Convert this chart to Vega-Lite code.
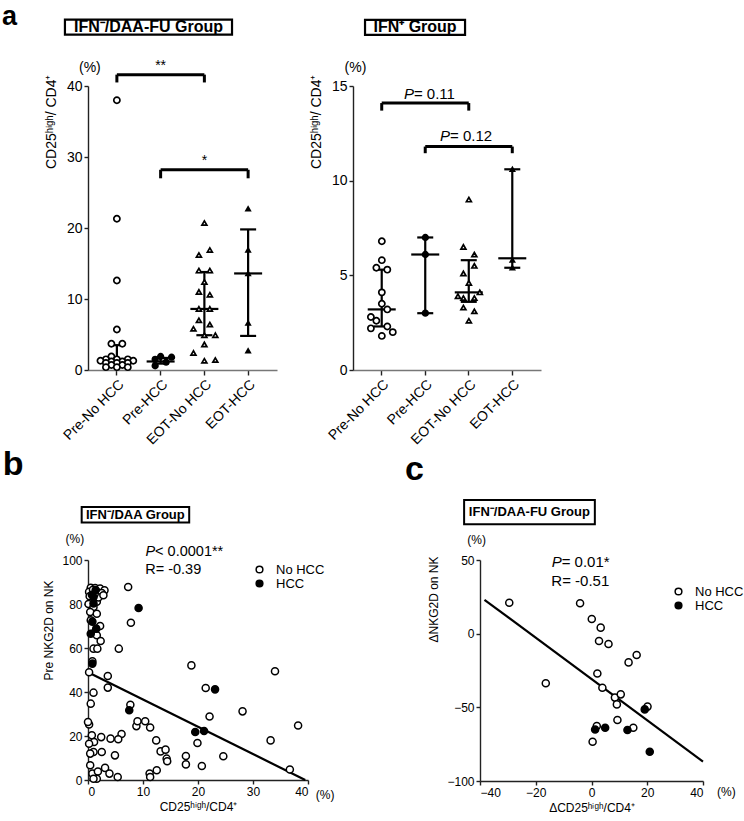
{
  "$schema": "https://vega.github.io/schema/vega-lite/v6.json",
  "padding": {"left": 2, "top": 3, "right": 0, "bottom": 0},
  "background": "white",
  "spacing": 1,
  "resolve": {"scale": {"fill": "independent", "shape": "independent", "size": "independent"}, "legend": {"fill": "independent", "shape": "independent", "size": "independent"}},
  "config": {
    "font": "Liberation Sans",
    "view": {"stroke": null},
    "axis": {"domainColor": "#222", "domainWidth": 1.4, "tickColor": "#222", "tickWidth": 1.4, "tickSize": 4, "labelColor": "black", "labelFontSize": 13, "labelFont": "Liberation Sans", "titleFont": "Liberation Sans", "titleFontWeight": "normal", "titleColor": "black", "titleFontSize": 14, "grid": false},
    "text": {"font": "Liberation Sans", "color": "black"},
    "tick": {"opacity": 1},
    "legend": {"labelFont": "Liberation Sans", "labelColor": "black"}
  },
  "datasets": {
    "aL_pts": [
      {"group": "Pre-No HCC", "value": 38.0, "lane": 0},
      {"group": "Pre-No HCC", "value": 21.3, "lane": 0},
      {"group": "Pre-No HCC", "value": 12.6, "lane": 0},
      {"group": "Pre-No HCC", "value": 5.7, "lane": 0},
      {"group": "Pre-No HCC", "value": 3.7, "lane": -1},
      {"group": "Pre-No HCC", "value": 3.7, "lane": 1},
      {"group": "Pre-No HCC", "value": 1.9, "lane": -1},
      {"group": "Pre-No HCC", "value": 1.5, "lane": -2},
      {"group": "Pre-No HCC", "value": 1.5, "lane": 0},
      {"group": "Pre-No HCC", "value": 1.5, "lane": 2},
      {"group": "Pre-No HCC", "value": 1.3, "lane": -3},
      {"group": "Pre-No HCC", "value": 1.2, "lane": -1},
      {"group": "Pre-No HCC", "value": 1.2, "lane": 1},
      {"group": "Pre-No HCC", "value": 1.3, "lane": 3},
      {"group": "Pre-No HCC", "value": 1.0, "lane": -2},
      {"group": "Pre-No HCC", "value": 1.0, "lane": 0},
      {"group": "Pre-No HCC", "value": 1.0, "lane": 2},
      {"group": "Pre-No HCC", "value": 0.7, "lane": -1},
      {"group": "Pre-No HCC", "value": 0.7, "lane": 1},
      {"group": "Pre-No HCC", "value": 0.4, "lane": -2},
      {"group": "Pre-No HCC", "value": 0.4, "lane": 0},
      {"group": "Pre-No HCC", "value": 0.4, "lane": 2},
      {"group": "Pre-HCC", "value": 1.9, "lane": 0},
      {"group": "Pre-HCC", "value": 1.8, "lane": 2},
      {"group": "Pre-HCC", "value": 1.5, "lane": -1},
      {"group": "Pre-HCC", "value": 1.1, "lane": 1},
      {"group": "Pre-HCC", "value": 0.6, "lane": -1},
      {"group": "EOT-No HCC", "value": 20.7, "lane": 0},
      {"group": "EOT-No HCC", "value": 16.9, "lane": 1},
      {"group": "EOT-No HCC", "value": 16.2, "lane": -1},
      {"group": "EOT-No HCC", "value": 14.0, "lane": -1},
      {"group": "EOT-No HCC", "value": 14.0, "lane": 1},
      {"group": "EOT-No HCC", "value": 12.4, "lane": 0},
      {"group": "EOT-No HCC", "value": 11.0, "lane": -1},
      {"group": "EOT-No HCC", "value": 10.6, "lane": 1},
      {"group": "EOT-No HCC", "value": 8.6, "lane": -1},
      {"group": "EOT-No HCC", "value": 8.6, "lane": 1},
      {"group": "EOT-No HCC", "value": 7.0, "lane": -1},
      {"group": "EOT-No HCC", "value": 6.4, "lane": 1},
      {"group": "EOT-No HCC", "value": 5.8, "lane": -2},
      {"group": "EOT-No HCC", "value": 4.9, "lane": 0},
      {"group": "EOT-No HCC", "value": 4.9, "lane": 2},
      {"group": "EOT-No HCC", "value": 3.6, "lane": 0},
      {"group": "EOT-No HCC", "value": 2.4, "lane": -2},
      {"group": "EOT-No HCC", "value": 1.3, "lane": 0},
      {"group": "EOT-No HCC", "value": 1.4, "lane": 2},
      {"group": "EOT-HCC", "value": 22.7, "lane": 0},
      {"group": "EOT-HCC", "value": 16.9, "lane": 0},
      {"group": "EOT-HCC", "value": 13.6, "lane": 0},
      {"group": "EOT-HCC", "value": 6.6, "lane": 0},
      {"group": "EOT-HCC", "value": 2.7, "lane": 0}
    ],
    "aL_sum": [
      {"group": "Pre-No HCC", "med": 1.3, "lo": 0.5, "hi": 3.5},
      {"group": "Pre-HCC", "med": 1.2, "lo": 0.9, "hi": 1.7},
      {"group": "EOT-No HCC", "med": 8.6, "lo": 4.9, "hi": 13.8},
      {"group": "EOT-HCC", "med": 13.6, "lo": 4.8, "hi": 19.8}
    ],
    "aL_br": [
      {"from": "Pre-No HCC", "to": "EOT-No HCC", "y": 41.6, "y0": 40.5, "mid": "Pre-HCC", "ly": 42.8, "label": "**"},
      {"from": "Pre-HCC", "to": "EOT-HCC", "y": 28.2, "y0": 27.0, "mid": "EOT-No HCC", "ly": 29.5, "label": "*"}
    ],
    "aL_letter": [{"fx": -0.455, "y": 49.7, "text": "a"}],
    "aL_pct": [{"fx": 0.01, "y": 42.6, "text": "(%)"}],
    "aL_box": [
      {"fx": -0.122, "fx2": 0.762, "y": 49.35, "y2": 47.23, "cx": 0.32, "cy": 48.3, "text": "IFN⁻/DAA-FU Group"}
    ],
    "aR_pts": [
      {"group": "Pre-No HCC", "value": 6.8, "lane": 0},
      {"group": "Pre-No HCC", "value": 5.8, "lane": 0},
      {"group": "Pre-No HCC", "value": 5.4, "lane": -1},
      {"group": "Pre-No HCC", "value": 5.3, "lane": 1},
      {"group": "Pre-No HCC", "value": 4.1, "lane": 0},
      {"group": "Pre-No HCC", "value": 3.5, "lane": 0},
      {"group": "Pre-No HCC", "value": 3.2, "lane": 1},
      {"group": "Pre-No HCC", "value": 2.8, "lane": -2},
      {"group": "Pre-No HCC", "value": 2.6, "lane": -1},
      {"group": "Pre-No HCC", "value": 2.3, "lane": 1},
      {"group": "Pre-No HCC", "value": 2.2, "lane": -2},
      {"group": "Pre-No HCC", "value": 2.0, "lane": 2},
      {"group": "Pre-No HCC", "value": 1.8, "lane": 0},
      {"group": "Pre-HCC", "value": 7.0, "lane": 0},
      {"group": "Pre-HCC", "value": 6.1, "lane": 0},
      {"group": "Pre-HCC", "value": 3.0, "lane": 0},
      {"group": "EOT-No HCC", "value": 9.0, "lane": 0},
      {"group": "EOT-No HCC", "value": 6.5, "lane": -1},
      {"group": "EOT-No HCC", "value": 6.1, "lane": 1},
      {"group": "EOT-No HCC", "value": 5.5, "lane": 1},
      {"group": "EOT-No HCC", "value": 5.1, "lane": -1},
      {"group": "EOT-No HCC", "value": 4.6, "lane": 0},
      {"group": "EOT-No HCC", "value": 4.1, "lane": 2},
      {"group": "EOT-No HCC", "value": 3.9, "lane": -2},
      {"group": "EOT-No HCC", "value": 3.8, "lane": -1},
      {"group": "EOT-No HCC", "value": 3.8, "lane": 1},
      {"group": "EOT-No HCC", "value": 3.3, "lane": -1},
      {"group": "EOT-No HCC", "value": 3.1, "lane": 1},
      {"group": "EOT-No HCC", "value": 2.6, "lane": 0},
      {"group": "EOT-HCC", "value": 10.6, "lane": 0},
      {"group": "EOT-HCC", "value": 5.8, "lane": 0},
      {"group": "EOT-HCC", "value": 5.4, "lane": 0}
    ],
    "aR_sum": [
      {"group": "Pre-No HCC", "med": 3.2, "lo": 2.3, "hi": 5.3},
      {"group": "Pre-HCC", "med": 6.1, "lo": 3.0, "hi": 7.0},
      {"group": "EOT-No HCC", "med": 4.1, "lo": 3.6, "hi": 5.8},
      {"group": "EOT-HCC", "med": 5.9, "lo": 5.4, "hi": 10.6}
    ],
    "aR_br": [
      {"from": "Pre-No HCC", "to": "EOT-No HCC", "y": 14.1, "y0": 13.7},
      {"from": "Pre-HCC", "to": "EOT-HCC", "y": 11.8, "y0": 11.45}
    ],
    "aR_pct": [{"fx": 0.013, "y": 15.93, "text": "(%)"}],
    "aR_p": [
      {"fx": 0.324, "y": 14.56, "rest": "= 0.11"},
      {"fx": 0.516, "y": 12.36, "rest": "= 0.12"}
    ],
    "aR_box": [
      {"fx": 0.064, "fx2": 0.596, "y": 18.49, "y2": 17.7, "cx": 0.33, "cy": 18.1, "text": "IFN⁺ Group"}
    ],
    "b_pts": [
      {"x": 0.5, "y": 87.4, "grp": "No HCC"}, {"x": 1.3, "y": 87.3, "grp": "No HCC"}, {"x": 2.2, "y": 87.0, "grp": "No HCC"},
      {"x": 3.0, "y": 86.2, "grp": "No HCC"}, {"x": 0.2, "y": 85.5, "grp": "No HCC"}, {"x": 1.6, "y": 85.5, "grp": "No HCC"},
      {"x": 2.5, "y": 85.0, "grp": "No HCC"}, {"x": 0.7, "y": 82.4, "grp": "No HCC"}, {"x": 1.6, "y": 81.0, "grp": "No HCC"},
      {"x": 0.1, "y": 80.0, "grp": "No HCC"}, {"x": 1.0, "y": 78.6, "grp": "No HCC"}, {"x": 0.4, "y": 76.4, "grp": "No HCC"},
      {"x": 1.6, "y": 75.6, "grp": "No HCC"}, {"x": 0.5, "y": 72.6, "grp": "No HCC"}, {"x": 2.2, "y": 70.0, "grp": "No HCC"},
      {"x": 1.2, "y": 67.0, "grp": "No HCC"}, {"x": 1.6, "y": 65.8, "grp": "No HCC"}, {"x": 2.3, "y": 63.2, "grp": "No HCC"},
      {"x": 1.0, "y": 59.7, "grp": "No HCC"}, {"x": 1.7, "y": 59.7, "grp": "No HCC"}, {"x": 0.8, "y": 54.0, "grp": "No HCC"},
      {"x": 0.2, "y": 49.0, "grp": "No HCC"}, {"x": 1.0, "y": 39.7, "grp": "No HCC"}, {"x": 0.5, "y": 34.7, "grp": "No HCC"},
      {"x": 3.6, "y": 47.3, "grp": "No HCC"}, {"x": 3.6, "y": 42.0, "grp": "No HCC"}, {"x": 7.3, "y": 87.7, "grp": "No HCC"},
      {"x": 7.8, "y": 71.5, "grp": "No HCC"}, {"x": 5.6, "y": 59.7, "grp": "No HCC"}, {"x": 18.8, "y": 52.1, "grp": "No HCC"},
      {"x": 34.0, "y": 49.4, "grp": "No HCC"}, {"x": 21.4, "y": 41.8, "grp": "No HCC"}, {"x": 22.1, "y": 28.9, "grp": "No HCC"},
      {"x": 28.1, "y": 31.2, "grp": "No HCC"}, {"x": 7.7, "y": 34.2, "grp": "No HCC"}, {"x": 8.8, "y": 24.5, "grp": "No HCC"},
      {"x": 9.0, "y": 26.7, "grp": "No HCC"}, {"x": 10.4, "y": 26.7, "grp": "No HCC"}, {"x": 11.3, "y": 23.9, "grp": "No HCC"},
      {"x": 38.2, "y": 24.8, "grp": "No HCC"}, {"x": 6.1, "y": 20.9, "grp": "No HCC"}, {"x": 4.1, "y": 18.8, "grp": "No HCC"},
      {"x": 5.5, "y": 18.5, "grp": "No HCC"}, {"x": 2.4, "y": 19.5, "grp": "No HCC"}, {"x": 0.7, "y": 20.3, "grp": "No HCC"},
      {"x": 0.2, "y": 25.2, "grp": "No HCC"}, {"x": 0.0, "y": 26.4, "grp": "No HCC"}, {"x": 12.4, "y": 18.0, "grp": "No HCC"},
      {"x": 13.2, "y": 13.0, "grp": "No HCC"}, {"x": 14.1, "y": 13.8, "grp": "No HCC"}, {"x": 14.3, "y": 9.7, "grp": "No HCC"},
      {"x": 14.4, "y": 8.5, "grp": "No HCC"}, {"x": 17.8, "y": 10.9, "grp": "No HCC"}, {"x": 17.8, "y": 7.1, "grp": "No HCC"},
      {"x": 19.9, "y": 16.8, "grp": "No HCC"}, {"x": 20.7, "y": 6.4, "grp": "No HCC"}, {"x": 24.6, "y": 10.8, "grp": "No HCC"},
      {"x": 33.2, "y": 18.0, "grp": "No HCC"}, {"x": 36.7, "y": 4.8, "grp": "No HCC"}, {"x": 4.9, "y": 11.2, "grp": "No HCC"},
      {"x": 1.1, "y": 17.3, "grp": "No HCC"}, {"x": 2.5, "y": 12.7, "grp": "No HCC"}, {"x": 1.0, "y": 12.7, "grp": "No HCC"},
      {"x": 0.2, "y": 16.5, "grp": "No HCC"}, {"x": 0.4, "y": 12.0, "grp": "No HCC"}, {"x": 0.4, "y": 6.7, "grp": "No HCC"},
      {"x": 0.8, "y": 2.9, "grp": "No HCC"}, {"x": 1.8, "y": 3.9, "grp": "No HCC"}, {"x": 1.6, "y": 0.6, "grp": "No HCC"},
      {"x": 1.0, "y": 0.6, "grp": "No HCC"}, {"x": 3.1, "y": 5.5, "grp": "No HCC"}, {"x": 3.9, "y": 2.9, "grp": "No HCC"},
      {"x": 5.4, "y": 1.4, "grp": "No HCC"}, {"x": 11.2, "y": 2.9, "grp": "No HCC"}, {"x": 11.3, "y": 1.4, "grp": "No HCC"},
      {"x": 12.5, "y": 4.4, "grp": "No HCC"}, {"x": 0.3, "y": 83.5, "grp": "No HCC"}, {"x": 1.9, "y": 83.0, "grp": "No HCC"},
      {"x": 2.8, "y": 84.0, "grp": "No HCC"}, {"x": 1.2, "y": 84.5, "grp": "No HCC"}, {"x": 0.9, "y": 86.5, "grp": "No HCC"},
      {"x": 0.7, "y": 84.2, "grp": "HCC"}, {"x": 1.0, "y": 83.2, "grp": "HCC"}, {"x": 1.4, "y": 86.4, "grp": "HCC"},
      {"x": 1.0, "y": 80.2, "grp": "HCC"}, {"x": 0.8, "y": 72.0, "grp": "HCC"}, {"x": 0.5, "y": 66.5, "grp": "HCC"},
      {"x": 1.5, "y": 68.8, "grp": "HCC"}, {"x": 0.8, "y": 52.9, "grp": "HCC"}, {"x": 9.2, "y": 78.2, "grp": "HCC"},
      {"x": 7.5, "y": 31.7, "grp": "HCC"}, {"x": 23.1, "y": 41.2, "grp": "HCC"}, {"x": 19.5, "y": 21.8, "grp": "HCC"},
      {"x": 21.1, "y": 22.3, "grp": "HCC"}
    ],
    "b_fit": [{"x": 0, "y": 49.0}, {"x": 39.5, "y": 0}],
    "b_letter": [{"x": -15.5, "y": 143, "text": "b"}],
    "b_pct": [{"x": -2.4, "y": 109.5, "text": "(%)"}, {"x": 43.1, "y": -6.8, "text": "(%)"}],
    "b_r": [{"x": 10.4, "y": 95.6, "text": "R= -0.39"}],
    "b_p": [{"x": 12.2, "y": 103.5, "rest": "< 0.0001**"}],
    "b_box": [{"x": -1.15, "x2": 18.4, "y": 124.1, "y2": 117.0, "cx": 8.6, "cy": 120.5, "text": "IFN⁻/DAA Group"}],
    "c_pts": [
      {"x": -29.5, "y": 21.0, "grp": "No HCC"}, {"x": -4.1, "y": 20.6, "grp": "No HCC"}, {"x": 0.1, "y": 10.0, "grp": "No HCC"},
      {"x": 3.3, "y": 4.1, "grp": "No HCC"}, {"x": 2.7, "y": -5.0, "grp": "No HCC"}, {"x": 6.1, "y": -7.0, "grp": "No HCC"},
      {"x": 13.3, "y": -19.5, "grp": "No HCC"}, {"x": 16.2, "y": -14.5, "grp": "No HCC"}, {"x": -16.4, "y": -33.7, "grp": "No HCC"},
      {"x": 2.1, "y": -27.0, "grp": "No HCC"}, {"x": 3.9, "y": -36.7, "grp": "No HCC"}, {"x": 8.4, "y": -43.4, "grp": "No HCC"},
      {"x": 10.5, "y": -41.2, "grp": "No HCC"}, {"x": 9.1, "y": -48.0, "grp": "No HCC"}, {"x": 9.3, "y": -58.6, "grp": "No HCC"},
      {"x": 20.1, "y": -49.5, "grp": "No HCC"}, {"x": 1.9, "y": -62.7, "grp": "No HCC"}, {"x": 15.0, "y": -63.8, "grp": "No HCC"},
      {"x": 0.4, "y": -73.3, "grp": "No HCC"},
      {"x": 1.3, "y": -65.0, "grp": "HCC"}, {"x": 4.9, "y": -63.8, "grp": "HCC"}, {"x": 12.9, "y": -65.4, "grp": "HCC"},
      {"x": 19.1, "y": -51.4, "grp": "HCC"}, {"x": 20.9, "y": -80.1, "grp": "HCC"}
    ],
    "c_fit": [{"x": -38.4, "y": 23.0}, {"x": 40, "y": -86.9}],
    "c_letter": [{"x": -66.9, "y": 110.9, "text": "c"}],
    "c_pct": [{"x": -41.2, "y": 63.6, "text": "(%)"}, {"x": 48.4, "y": -107.2, "text": "(%)"}],
    "c_r": [{"x": -14.4, "y": 36.0, "text": "R= -0.51"}],
    "c_p": [{"x": -10.7, "y": 48.8, "rest": "= 0.01*"}],
    "c_box": [{"x": -45.7, "x2": 1.2, "y": 90.7, "y2": 74.2, "cx": -22.3, "cy": 82.5, "text": "IFN⁻/DAA-FU Group"}]
  },
  "vconcat": [
    {
      "bounds": "flush",
      "spacing": 76,
      "resolve": {"scale": {"fill": "independent", "shape": "independent", "size": "independent"}, "legend": {"fill": "independent", "shape": "independent", "size": "independent"}},
      "hconcat": [
        {
          "width": 189,
          "height": 284,
          "layer": [
            {
              "layer": [
                {
                  "data": {"name": "aL_sum"},
                  "mark": {"type": "rule", "color": "black", "strokeWidth": 2.2},
                  "encoding": {
                    "x": {"field": "group", "type": "nominal", "scale": {"type": "band", "domain": ["Pre-No HCC", "Pre-HCC", "EOT-No HCC", "EOT-HCC"], "paddingInner": 0, "paddingOuter": 0.16}, "axis": {"title": null, "labelAngle": -45, "labelFontSize": 14, "tickSize": 5, "bandPosition": 0.5, "domainColor": "#777", "labelPadding": 2}},
                    "y": {"field": "lo", "type": "quantitative", "scale": {"domain": [0, 40], "nice": false}, "axis": {"values": [0, 10, 20, 30, 40], "title": "CD25ʰⁱᵍʰ/ CD4⁺", "titleAnchor": "end", "titleY": -12, "labelFontSize": 14, "titlePadding": 8}},
                    "y2": {"field": "hi"}
                  }
                },
                {
                  "data": {"name": "aL_sum"},
                  "mark": {"type": "tick", "color": "black", "opacity": 1, "thickness": 2.2, "size": 28},
                  "encoding": {
                    "x": {"field": "group", "type": "nominal", "scale": {"type": "band", "domain": ["Pre-No HCC", "Pre-HCC", "EOT-No HCC", "EOT-HCC"], "paddingInner": 0, "paddingOuter": 0.16}},
                    "y": {"field": "med", "type": "quantitative"}
                  }
                },
                {
                  "data": {"name": "aL_sum"},
                  "mark": {"type": "tick", "color": "black", "opacity": 1, "thickness": 2.2, "size": 16},
                  "encoding": {
                    "x": {"field": "group", "type": "nominal", "scale": {"type": "band", "domain": ["Pre-No HCC", "Pre-HCC", "EOT-No HCC", "EOT-HCC"], "paddingInner": 0, "paddingOuter": 0.16}},
                    "y": {"field": "lo", "type": "quantitative"}
                  }
                },
                {
                  "data": {"name": "aL_sum"},
                  "mark": {"type": "tick", "color": "black", "opacity": 1, "thickness": 2.2, "size": 16},
                  "encoding": {
                    "x": {"field": "group", "type": "nominal", "scale": {"type": "band", "domain": ["Pre-No HCC", "Pre-HCC", "EOT-No HCC", "EOT-HCC"], "paddingInner": 0, "paddingOuter": 0.16}},
                    "y": {"field": "hi", "type": "quantitative"}
                  }
                },
                {
                  "data": {"name": "aL_pts"},
                  "mark": {"type": "point", "filled": true, "stroke": "black", "strokeWidth": 1.7, "opacity": 1},
                  "encoding": {
                    "x": {"field": "group", "type": "nominal", "scale": {"type": "band", "domain": ["Pre-No HCC", "Pre-HCC", "EOT-No HCC", "EOT-HCC"], "paddingInner": 0, "paddingOuter": 0.16}},
                    "xOffset": {"field": "lane", "type": "ordinal", "scale": {"domain": [-4, -3, -2, -1, 0, 1, 2, 3, 4], "paddingInner": 0, "paddingOuter": 0}},
                    "y": {"field": "value", "type": "quantitative"},
                    "shape": {"field": "group", "type": "nominal", "scale": {"domain": ["Pre-No HCC", "Pre-HCC", "EOT-No HCC", "EOT-HCC"], "range": ["circle", "circle", "triangle-up", "triangle-up"]}, "legend": null},
                    "fill": {"field": "group", "type": "nominal", "scale": {"domain": ["Pre-No HCC", "Pre-HCC", "EOT-No HCC", "EOT-HCC"], "range": ["white", "black", "white", "black"]}, "legend": null},
                    "size": {"field": "group", "type": "nominal", "scale": {"domain": ["Pre-No HCC", "Pre-HCC", "EOT-No HCC", "EOT-HCC"], "range": [38, 18, 40, 18]}, "legend": null}
                  }
                },
                {
                  "data": {"name": "aL_br"},
                  "mark": {"type": "rule", "color": "black", "strokeWidth": 3},
                  "encoding": {
                    "x": {"field": "from", "type": "nominal", "scale": {"type": "band", "domain": ["Pre-No HCC", "Pre-HCC", "EOT-No HCC", "EOT-HCC"], "paddingInner": 0, "paddingOuter": 0.16}},
                    "x2": {"field": "to"},
                    "y": {"field": "y", "type": "quantitative"}
                  }
                },
                {
                  "data": {"name": "aL_br"},
                  "mark": {"type": "rule", "color": "black", "strokeWidth": 3},
                  "encoding": {
                    "x": {"field": "from", "type": "nominal", "scale": {"type": "band", "domain": ["Pre-No HCC", "Pre-HCC", "EOT-No HCC", "EOT-HCC"], "paddingInner": 0, "paddingOuter": 0.16}},
                    "y": {"field": "y", "type": "quantitative"},
                    "y2": {"field": "y0"}
                  }
                },
                {
                  "data": {"name": "aL_br"},
                  "mark": {"type": "rule", "color": "black", "strokeWidth": 3},
                  "encoding": {
                    "x": {"field": "to", "type": "nominal", "scale": {"type": "band", "domain": ["Pre-No HCC", "Pre-HCC", "EOT-No HCC", "EOT-HCC"], "paddingInner": 0, "paddingOuter": 0.16}},
                    "y": {"field": "y", "type": "quantitative"},
                    "y2": {"field": "y0"}
                  }
                },
                {
                  "data": {"name": "aL_br"},
                  "mark": {"type": "text", "fontSize": 14, "baseline": "middle", "color": "black"},
                  "encoding": {
                    "x": {"field": "mid", "type": "nominal", "scale": {"type": "band", "domain": ["Pre-No HCC", "Pre-HCC", "EOT-No HCC", "EOT-HCC"], "paddingInner": 0, "paddingOuter": 0.16}},
                    "y": {"field": "ly", "type": "quantitative"},
                    "text": {"field": "label"}
                  }
                }
              ]
            },
            {
              "layer": [
                {
                  "data": {"name": "aL_box"},
                  "mark": {"type": "rect", "fill": "white", "stroke": "black", "strokeWidth": 2.2},
                  "encoding": {
                    "x": {"field": "fx", "type": "quantitative", "scale": {"domain": [0, 1], "nice": false, "zero": false}, "axis": null},
                    "x2": {"field": "fx2"},
                    "y": {"field": "y", "type": "quantitative"},
                    "y2": {"field": "y2"}
                  }
                },
                {
                  "data": {"name": "aL_box"},
                  "mark": {"type": "text", "fontSize": 16, "fontWeight": "bold", "baseline": "middle", "color": "black"},
                  "encoding": {
                    "x": {"field": "cx", "type": "quantitative", "axis": null},
                    "y": {"field": "cy", "type": "quantitative"},
                    "text": {"field": "text"}
                  }
                },
                {
                  "data": {"name": "aL_letter"},
                  "mark": {"type": "text", "fontSize": 27, "fontWeight": "bold", "baseline": "middle", "align": "left", "color": "black"},
                  "encoding": {
                    "x": {"field": "fx", "type": "quantitative", "axis": null},
                    "y": {"field": "y", "type": "quantitative"},
                    "text": {"field": "text"}
                  }
                },
                {
                  "data": {"name": "aL_pct"},
                  "mark": {"type": "text", "fontSize": 14, "baseline": "middle", "color": "black"},
                  "encoding": {
                    "x": {"field": "fx", "type": "quantitative", "axis": null},
                    "y": {"field": "y", "type": "quantitative"},
                    "text": {"field": "text"}
                  }
                }
              ]
            }
          ],
          "resolve": {"scale": {"x": "independent"}}
        },
        {
          "width": 188,
          "height": 284,
          "layer": [
            {
              "layer": [
                {
                  "data": {"name": "aR_sum"},
                  "mark": {"type": "rule", "color": "black", "strokeWidth": 2.2},
                  "encoding": {
                    "x": {"field": "group", "type": "nominal", "scale": {"type": "band", "domain": ["Pre-No HCC", "Pre-HCC", "EOT-No HCC", "EOT-HCC"], "paddingInner": 0, "paddingOuter": 0.16}, "axis": {"title": null, "labelAngle": -45, "labelFontSize": 14, "tickSize": 5, "bandPosition": 0.5, "domainColor": "#777", "labelPadding": 2}},
                    "y": {"field": "lo", "type": "quantitative", "scale": {"domain": [0, 15], "nice": false}, "axis": {"values": [0, 5, 10, 15], "title": "CD25ʰⁱᵍʰ/ CD4⁺", "titleAnchor": "end", "titleY": -12, "labelFontSize": 14, "titlePadding": 8}},
                    "y2": {"field": "hi"}
                  }
                },
                {
                  "data": {"name": "aR_sum"},
                  "mark": {"type": "tick", "color": "black", "opacity": 1, "thickness": 2.2, "size": 28},
                  "encoding": {
                    "x": {"field": "group", "type": "nominal", "scale": {"type": "band", "domain": ["Pre-No HCC", "Pre-HCC", "EOT-No HCC", "EOT-HCC"], "paddingInner": 0, "paddingOuter": 0.16}},
                    "y": {"field": "med", "type": "quantitative"}
                  }
                },
                {
                  "data": {"name": "aR_sum"},
                  "mark": {"type": "tick", "color": "black", "opacity": 1, "thickness": 2.2, "size": 16},
                  "encoding": {
                    "x": {"field": "group", "type": "nominal", "scale": {"type": "band", "domain": ["Pre-No HCC", "Pre-HCC", "EOT-No HCC", "EOT-HCC"], "paddingInner": 0, "paddingOuter": 0.16}},
                    "y": {"field": "lo", "type": "quantitative"}
                  }
                },
                {
                  "data": {"name": "aR_sum"},
                  "mark": {"type": "tick", "color": "black", "opacity": 1, "thickness": 2.2, "size": 16},
                  "encoding": {
                    "x": {"field": "group", "type": "nominal", "scale": {"type": "band", "domain": ["Pre-No HCC", "Pre-HCC", "EOT-No HCC", "EOT-HCC"], "paddingInner": 0, "paddingOuter": 0.16}},
                    "y": {"field": "hi", "type": "quantitative"}
                  }
                },
                {
                  "data": {"name": "aR_pts"},
                  "mark": {"type": "point", "filled": true, "stroke": "black", "strokeWidth": 1.7, "opacity": 1},
                  "encoding": {
                    "x": {"field": "group", "type": "nominal", "scale": {"type": "band", "domain": ["Pre-No HCC", "Pre-HCC", "EOT-No HCC", "EOT-HCC"], "paddingInner": 0, "paddingOuter": 0.16}},
                    "xOffset": {"field": "lane", "type": "ordinal", "scale": {"domain": [-4, -3, -2, -1, 0, 1, 2, 3, 4], "paddingInner": 0, "paddingOuter": 0}},
                    "y": {"field": "value", "type": "quantitative"},
                    "shape": {"field": "group", "type": "nominal", "scale": {"domain": ["Pre-No HCC", "Pre-HCC", "EOT-No HCC", "EOT-HCC"], "range": ["circle", "circle", "triangle-up", "triangle-up"]}, "legend": null},
                    "fill": {"field": "group", "type": "nominal", "scale": {"domain": ["Pre-No HCC", "Pre-HCC", "EOT-No HCC", "EOT-HCC"], "range": ["white", "black", "white", "black"]}, "legend": null},
                    "size": {"field": "group", "type": "nominal", "scale": {"domain": ["Pre-No HCC", "Pre-HCC", "EOT-No HCC", "EOT-HCC"], "range": [38, 18, 40, 18]}, "legend": null}
                  }
                },
                {
                  "data": {"name": "aR_br"},
                  "mark": {"type": "rule", "color": "black", "strokeWidth": 3},
                  "encoding": {
                    "x": {"field": "from", "type": "nominal", "scale": {"type": "band", "domain": ["Pre-No HCC", "Pre-HCC", "EOT-No HCC", "EOT-HCC"], "paddingInner": 0, "paddingOuter": 0.16}},
                    "x2": {"field": "to"},
                    "y": {"field": "y", "type": "quantitative"}
                  }
                },
                {
                  "data": {"name": "aR_br"},
                  "mark": {"type": "rule", "color": "black", "strokeWidth": 3},
                  "encoding": {
                    "x": {"field": "from", "type": "nominal", "scale": {"type": "band", "domain": ["Pre-No HCC", "Pre-HCC", "EOT-No HCC", "EOT-HCC"], "paddingInner": 0, "paddingOuter": 0.16}},
                    "y": {"field": "y", "type": "quantitative"},
                    "y2": {"field": "y0"}
                  }
                },
                {
                  "data": {"name": "aR_br"},
                  "mark": {"type": "rule", "color": "black", "strokeWidth": 3},
                  "encoding": {
                    "x": {"field": "to", "type": "nominal", "scale": {"type": "band", "domain": ["Pre-No HCC", "Pre-HCC", "EOT-No HCC", "EOT-HCC"], "paddingInner": 0, "paddingOuter": 0.16}},
                    "y": {"field": "y", "type": "quantitative"},
                    "y2": {"field": "y0"}
                  }
                }
              ]
            },
            {
              "layer": [
                {
                  "data": {"name": "aR_box"},
                  "mark": {"type": "rect", "fill": "white", "stroke": "black", "strokeWidth": 2.2},
                  "encoding": {
                    "x": {"field": "fx", "type": "quantitative", "scale": {"domain": [0, 1], "nice": false, "zero": false}, "axis": null},
                    "x2": {"field": "fx2"},
                    "y": {"field": "y", "type": "quantitative"},
                    "y2": {"field": "y2"}
                  }
                },
                {
                  "data": {"name": "aR_box"},
                  "mark": {"type": "text", "fontSize": 16, "fontWeight": "bold", "baseline": "middle", "color": "black"},
                  "encoding": {
                    "x": {"field": "cx", "type": "quantitative", "axis": null},
                    "y": {"field": "cy", "type": "quantitative"},
                    "text": {"field": "text"}
                  }
                },
                {
                  "data": {"name": "aR_pct"},
                  "mark": {"type": "text", "fontSize": 14, "baseline": "middle", "color": "black"},
                  "encoding": {
                    "x": {"field": "fx", "type": "quantitative", "axis": null},
                    "y": {"field": "y", "type": "quantitative"},
                    "text": {"field": "text"}
                  }
                },
                {
                  "data": {"name": "aR_p"},
                  "mark": {"type": "text", "fontSize": 15, "fontStyle": "italic", "baseline": "middle", "align": "right", "text": "P", "color": "black"},
                  "encoding": {
                    "x": {"field": "fx", "type": "quantitative", "axis": null},
                    "y": {"field": "y", "type": "quantitative"}
                  }
                },
                {
                  "data": {"name": "aR_p"},
                  "mark": {"type": "text", "fontSize": 15, "baseline": "middle", "align": "left", "color": "black"},
                  "encoding": {
                    "x": {"field": "fx", "type": "quantitative", "axis": null},
                    "y": {"field": "y", "type": "quantitative"},
                    "text": {"field": "rest"}
                  }
                }
              ]
            }
          ],
          "resolve": {"scale": {"x": "independent"}}
        }
      ]
    },
    {
      "bounds": "flush",
      "spacing": 172,
      "resolve": {"scale": {"fill": "independent", "shape": "independent", "size": "independent"}, "legend": {"fill": "independent", "shape": "independent", "size": "independent"}},
      "hconcat": [
        {
          "width": 220,
          "height": 220,
          "layer": [
            {
              "data": {"name": "b_fit"},
              "mark": {"type": "line", "color": "black", "strokeWidth": 2.2},
              "encoding": {
                "x": {"field": "x", "type": "quantitative", "scale": {"domain": [0, 40], "nice": false, "zero": false}, "axis": {"values": [0, 10, 20, 30, 40], "title": "CD25ʰⁱᵍʰ/CD4⁺", "titleFontSize": 12, "labelFontSize": 12, "titlePadding": 4}},
                "y": {"field": "y", "type": "quantitative", "scale": {"domain": [0, 100], "nice": false, "zero": false}, "axis": {"values": [0, 20, 40, 60, 80, 100], "title": "Pre NKG2D on NK", "titleFontSize": 12, "labelFontSize": 12, "titlePadding": 6, "titleAnchor": "end", "titleY": 20}}
              }
            },
            {
              "data": {"name": "b_pts"},
              "mark": {"type": "point", "filled": true, "shape": "circle", "stroke": "black", "strokeWidth": 1.5, "size": 50, "opacity": 1},
              "encoding": {
                "x": {"field": "x", "type": "quantitative"},
                "y": {"field": "y", "type": "quantitative"},
                "fill": {"field": "grp", "type": "nominal", "scale": {"domain": ["No HCC", "HCC"], "range": ["white", "black"]}, "legend": {"title": null, "orient": "none", "legendX": 165, "legendY": 3, "labelFontSize": 13, "symbolSize": 45, "symbolStrokeColor": "black", "symbolStrokeWidth": 1.5, "symbolType": "circle", "rowPadding": 0, "labelOffset": 10}}
              }
            },
            {
              "data": {"name": "b_box"},
              "mark": {"type": "rect", "fill": "white", "stroke": "black", "strokeWidth": 2},
              "encoding": {
                "x": {"field": "x", "type": "quantitative"},
                "x2": {"field": "x2"},
                "y": {"field": "y", "type": "quantitative"},
                "y2": {"field": "y2"}
              }
            },
            {
              "data": {"name": "b_box"},
              "mark": {"type": "text", "fontSize": 13, "fontWeight": "bold", "baseline": "middle", "color": "black"},
              "encoding": {
                "x": {"field": "cx", "type": "quantitative"},
                "y": {"field": "cy", "type": "quantitative"},
                "text": {"field": "text"}
              }
            },
            {
              "data": {"name": "b_letter"},
              "mark": {"type": "text", "fontSize": 34, "fontWeight": "bold", "baseline": "middle", "align": "left", "color": "black"},
              "encoding": {
                "x": {"field": "x", "type": "quantitative"},
                "y": {"field": "y", "type": "quantitative"},
                "text": {"field": "text"}
              }
            },
            {
              "data": {"name": "b_pct"},
              "mark": {"type": "text", "fontSize": 12, "baseline": "middle", "color": "black"},
              "encoding": {
                "x": {"field": "x", "type": "quantitative"},
                "y": {"field": "y", "type": "quantitative"},
                "text": {"field": "text"}
              }
            },
            {
              "data": {"name": "b_r"},
              "mark": {"type": "text", "fontSize": 14.5, "baseline": "middle", "align": "left", "color": "black"},
              "encoding": {
                "x": {"field": "x", "type": "quantitative"},
                "y": {"field": "y", "type": "quantitative"},
                "text": {"field": "text"}
              }
            },
            {
              "data": {"name": "b_p"},
              "mark": {"type": "text", "fontSize": 14.5, "fontStyle": "italic", "baseline": "middle", "align": "right", "text": "P", "color": "black"},
              "encoding": {
                "x": {"field": "x", "type": "quantitative"},
                "y": {"field": "y", "type": "quantitative"}
              }
            },
            {
              "data": {"name": "b_p"},
              "mark": {"type": "text", "fontSize": 14.5, "baseline": "middle", "align": "left", "color": "black"},
              "encoding": {
                "x": {"field": "x", "type": "quantitative"},
                "y": {"field": "y", "type": "quantitative"},
                "text": {"field": "rest"}
              }
            }
          ]
        },
        {
          "width": 223,
          "height": 221,
          "layer": [
            {
              "data": {"name": "c_fit"},
              "mark": {"type": "line", "color": "black", "strokeWidth": 2.2},
              "encoding": {
                "x": {"field": "x", "type": "quantitative", "scale": {"domain": [-40, 40], "nice": false, "zero": false}, "axis": {"values": [-40, -20, 0, 20, 40], "title": "ΔCD25ʰⁱᵍʰ/CD4⁺", "titleFontSize": 12, "labelFontSize": 12, "titlePadding": 4}},
                "y": {"field": "y", "type": "quantitative", "scale": {"domain": [-100, 50], "nice": false, "zero": false}, "axis": {"values": [-100, -50, 0, 50], "title": "ΔNKG2D on NK", "titleFontSize": 12, "labelFontSize": 12, "titlePadding": 6, "titleAnchor": "end", "titleY": -4}}
              }
            },
            {
              "data": {"name": "c_pts"},
              "mark": {"type": "point", "filled": true, "shape": "circle", "stroke": "black", "strokeWidth": 1.5, "size": 50, "opacity": 1},
              "encoding": {
                "x": {"field": "x", "type": "quantitative"},
                "y": {"field": "y", "type": "quantitative"},
                "fill": {"field": "grp", "type": "nominal", "scale": {"domain": ["No HCC", "HCC"], "range": ["white", "black"]}, "legend": {"title": null, "orient": "none", "legendX": 192, "legendY": 25, "labelFontSize": 13, "symbolSize": 45, "symbolStrokeColor": "black", "symbolStrokeWidth": 1.5, "symbolType": "circle", "rowPadding": 0, "labelOffset": 10}}
              }
            },
            {
              "data": {"name": "c_box"},
              "mark": {"type": "rect", "fill": "white", "stroke": "black", "strokeWidth": 2},
              "encoding": {
                "x": {"field": "x", "type": "quantitative"},
                "x2": {"field": "x2"},
                "y": {"field": "y", "type": "quantitative"},
                "y2": {"field": "y2"}
              }
            },
            {
              "data": {"name": "c_box"},
              "mark": {"type": "text", "fontSize": 13, "fontWeight": "bold", "baseline": "middle", "color": "black"},
              "encoding": {
                "x": {"field": "cx", "type": "quantitative"},
                "y": {"field": "cy", "type": "quantitative"},
                "text": {"field": "text"}
              }
            },
            {
              "data": {"name": "c_letter"},
              "mark": {"type": "text", "fontSize": 34, "fontWeight": "bold", "baseline": "middle", "align": "left", "color": "black"},
              "encoding": {
                "x": {"field": "x", "type": "quantitative"},
                "y": {"field": "y", "type": "quantitative"},
                "text": {"field": "text"}
              }
            },
            {
              "data": {"name": "c_pct"},
              "mark": {"type": "text", "fontSize": 12, "baseline": "middle", "color": "black"},
              "encoding": {
                "x": {"field": "x", "type": "quantitative"},
                "y": {"field": "y", "type": "quantitative"},
                "text": {"field": "text"}
              }
            },
            {
              "data": {"name": "c_r"},
              "mark": {"type": "text", "fontSize": 15, "baseline": "middle", "align": "left", "color": "black"},
              "encoding": {
                "x": {"field": "x", "type": "quantitative"},
                "y": {"field": "y", "type": "quantitative"},
                "text": {"field": "text"}
              }
            },
            {
              "data": {"name": "c_p"},
              "mark": {"type": "text", "fontSize": 15, "fontStyle": "italic", "baseline": "middle", "align": "right", "text": "P", "color": "black"},
              "encoding": {
                "x": {"field": "x", "type": "quantitative"},
                "y": {"field": "y", "type": "quantitative"}
              }
            },
            {
              "data": {"name": "c_p"},
              "mark": {"type": "text", "fontSize": 15, "baseline": "middle", "align": "left", "color": "black"},
              "encoding": {
                "x": {"field": "x", "type": "quantitative"},
                "y": {"field": "y", "type": "quantitative"},
                "text": {"field": "rest"}
              }
            }
          ]
        }
      ]
    }
  ]
}
